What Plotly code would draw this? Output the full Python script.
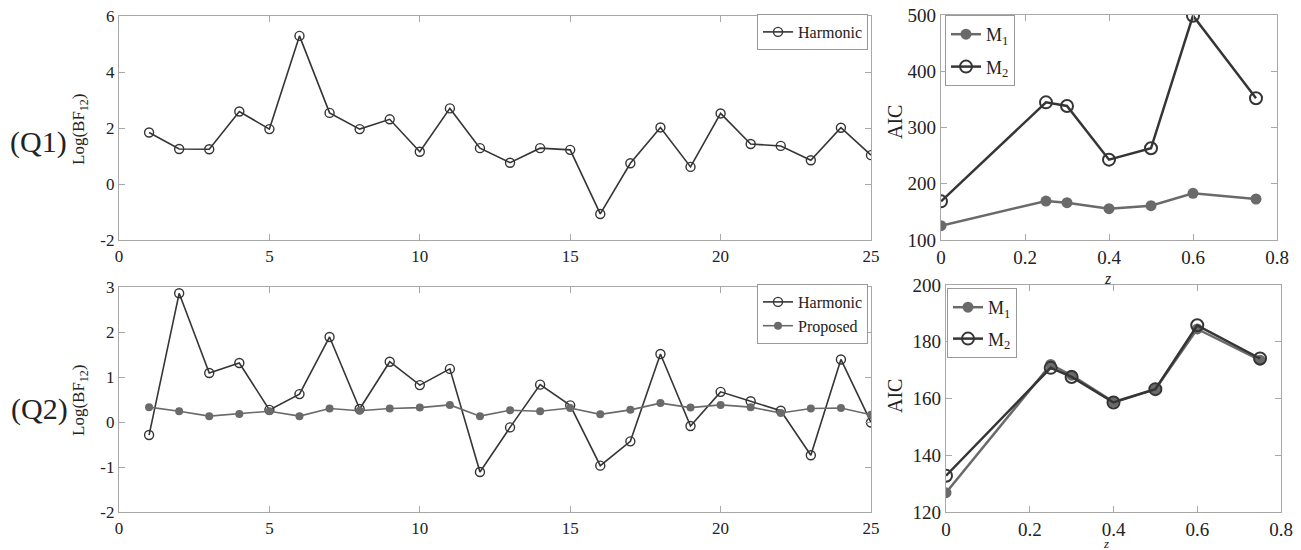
import plotly.graph_objects as go

W, H = 1301, 550

# ---------------- data ----------------
idx = list(range(1, 26))
q1_harmonic = [1.84, 1.25, 1.24, 2.59, 1.96, 5.29, 2.54, 1.96, 2.31, 1.15,
               2.70, 1.28, 0.76, 1.28, 1.22, -1.07, 0.74, 2.02, 0.61, 2.52,
               1.43, 1.36, 0.85, 2.01, 1.03]
q2_harmonic = [-0.29, 2.86, 1.09, 1.31, 0.27, 0.62, 1.89, 0.29, 1.34, 0.82,
               1.18, -1.11, -0.12, 0.83, 0.37, -0.97, -0.43, 1.51, -0.09, 0.67,
               0.46, 0.25, -0.74, 1.39, -0.01]
q2_proposed = [0.33, 0.24, 0.13, 0.18, 0.24, 0.13, 0.30, 0.25, 0.30, 0.32,
               0.38, 0.13, 0.26, 0.24, 0.31, 0.17, 0.27, 0.42, 0.32, 0.38,
               0.33, 0.20, 0.30, 0.31, 0.16]
z_vals = [0, 0.25, 0.3, 0.4, 0.5, 0.6, 0.75]
q1_m1 = [125.5, 169.3, 166.4, 155.7, 161.0, 183.0, 172.9]
q1_m2 = [168.7, 344.7, 338.2, 242.8, 263.0, 498.8, 351.9]
q2_m1 = [126.8, 172.0, 168.2, 158.8, 163.3, 184.5, 173.5]
q2_m2 = [132.8, 170.8, 167.6, 158.6, 163.3, 185.8, 174.1]

q1_yticks = [-2, 0, 2, 4, 6]
q2_yticks = [-2, -1, 0, 1, 2, 3]
q1_ylabels = ["-2", "0", "2", "4", "6"]
q2_ylabels = ["-2", "-1", "0", "1", "2", "3"]

DARK = "#353535"
GRAY = "#6a6a6a"
FONT = "Liberation Serif, Times New Roman, serif"

fig = go.Figure()

# top-left
fig.add_trace(go.Scatter(x=idx, y=q1_harmonic, name="Harmonic", mode="lines+markers",
                         line=dict(color=DARK, width=1.6),
                         marker=dict(symbol="circle-open", size=9, color=DARK, line=dict(width=1.4)),
                         xaxis="x", yaxis="y", legend="legend"))
# bottom-left
fig.add_trace(go.Scatter(x=idx, y=q2_harmonic, name="Harmonic", mode="lines+markers",
                         line=dict(color=DARK, width=1.6),
                         marker=dict(symbol="circle-open", size=9, color=DARK, line=dict(width=1.4)),
                         xaxis="x2", yaxis="y2", legend="legend2"))
fig.add_trace(go.Scatter(x=idx, y=q2_proposed, name="Proposed", mode="lines+markers",
                         line=dict(color=GRAY, width=1.6),
                         marker=dict(symbol="circle", size=8, color=GRAY),
                         xaxis="x2", yaxis="y2", legend="legend2"))
# top-right
fig.add_trace(go.Scatter(x=z_vals, y=q1_m1, name="M<sub>1</sub>", mode="lines+markers",
                         line=dict(color=GRAY, width=2.5), legendgroup="a1",
                         marker=dict(symbol="circle", size=11, color=GRAY),
                         xaxis="x3", yaxis="y3", legend="legend3"))
fig.add_trace(go.Scatter(x=z_vals, y=q1_m2, name="M<sub>2</sub>", mode="lines+markers",
                         line=dict(color=DARK, width=2.5), legendgroup="a2",
                         marker=dict(symbol="circle-open", size=12, color=DARK, line=dict(width=2)),
                         xaxis="x3", yaxis="y3", legend="legend3"))
# bottom-right
fig.add_trace(go.Scatter(x=z_vals, y=q2_m1, name="M<sub>1</sub>", mode="lines+markers",
                         line=dict(color=GRAY, width=2.5), legendgroup="b1",
                         marker=dict(symbol="circle", size=11, color=GRAY),
                         xaxis="x4", yaxis="y4", legend="legend4"))
fig.add_trace(go.Scatter(x=z_vals, y=q2_m2, name="M<sub>2</sub>", mode="lines+markers",
                         line=dict(color=DARK, width=2.5), legendgroup="b2",
                         marker=dict(symbol="circle-open", size=12, color=DARK, line=dict(width=2)),
                         xaxis="x4", yaxis="y4", legend="legend4"))


def dom_x(a, b):
    return [a / W, b / W]


def dom_y(top, bottom):
    return [1 - bottom / H, 1 - top / H]


def ax(domain, anchor, rng, dtick, fsize, **kw):
    d = dict(domain=domain, anchor=anchor, range=rng, dtick=dtick, tick0=rng[0],
             showline=True, mirror="ticks", linecolor="#a8a8a8", linewidth=1.2,
             ticks="inside", ticklen=6, tickcolor="#a8a8a8", tickwidth=1,
             showgrid=False, zeroline=False, fixedrange=True, automargin=False,
             tickfont=dict(family=FONT, size=fsize, color="#222"))
    d.update(kw)
    return d


leg_common = dict(bgcolor="white", bordercolor="#999", borderwidth=1, itemwidth=30)

fig.update_layout(
    width=W, height=H, autosize=False,
    margin=dict(l=0, r=0, t=0, b=0, autoexpand=False),
    paper_bgcolor="white", plot_bgcolor="white",
    font=dict(family=FONT, color="#222"),
    xaxis=ax(dom_x(119, 871), "y", [0, 25], 5, 17),
    yaxis=ax(dom_y(16, 240), "x", [-2, 6], 2, 17, tickmode="array",
             tickvals=q1_yticks, ticktext=q1_ylabels),
    xaxis2=ax(dom_x(119, 871), "y2", [0, 25], 5, 17),
    yaxis2=ax(dom_y(287, 512), "x2", [-2, 3], 1, 17, tickmode="array",
              tickvals=q2_yticks, ticktext=q2_ylabels),
    xaxis3=ax(dom_x(941, 1277), "y3", [0, 0.8], 0.2, 19),
    yaxis3=ax(dom_y(15, 240), "x3", [100, 500], 100, 19),
    xaxis4=ax(dom_x(946, 1281), "y4", [0, 0.8], 0.2, 19),
    yaxis4=ax(dom_y(285, 512), "x4", [120, 200], 20, 19),
    legend=dict(x=868 / W, y=1 - 14 / H, xanchor="right", yanchor="top", tracegroupgap=0,
                font=dict(family=FONT, size=16, color="#222"), **leg_common),
    legend2=dict(x=868 / W, y=1 - 284 / H, xanchor="right", yanchor="top", tracegroupgap=0,
                 font=dict(family=FONT, size=16, color="#222"), **leg_common),
    legend3=dict(x=945 / W, y=1 - 15 / H, xanchor="left", yanchor="top", tracegroupgap=6,
                 font=dict(family=FONT, size=18, color="#222"), **leg_common),
    legend4=dict(x=947 / W, y=1 - 288 / H, xanchor="left", yanchor="top", tracegroupgap=5,
                 font=dict(family=FONT, size=18, color="#222"), **leg_common),
    showlegend=True,
)


def ann(text, px, py, size, angle=0):
    fig.add_annotation(text=text, x=px / W, y=1 - py / H, xref="paper", yref="paper",
                       xanchor="center", yanchor="middle", showarrow=False, borderpad=0,
                       textangle=angle, font=dict(family=FONT, size=size, color="#222"))


ann("(Q1)", 38, 142, 30)
ann("(Q2)", 39, 409, 30)
ann("Log(BF<sub>12</sub>)", 80, 130, 17, -90)
ann("Log(BF<sub>12</sub>)", 80, 401, 17, -90)
ann("AIC", 895, 122, 20, -90)
ann("AIC", 895, 396, 20, -90)
ann("<i>z</i>", 1108, 278, 16)
ann("<i>z</i>", 1106, 543, 13)

fig.write_html("out.html")
